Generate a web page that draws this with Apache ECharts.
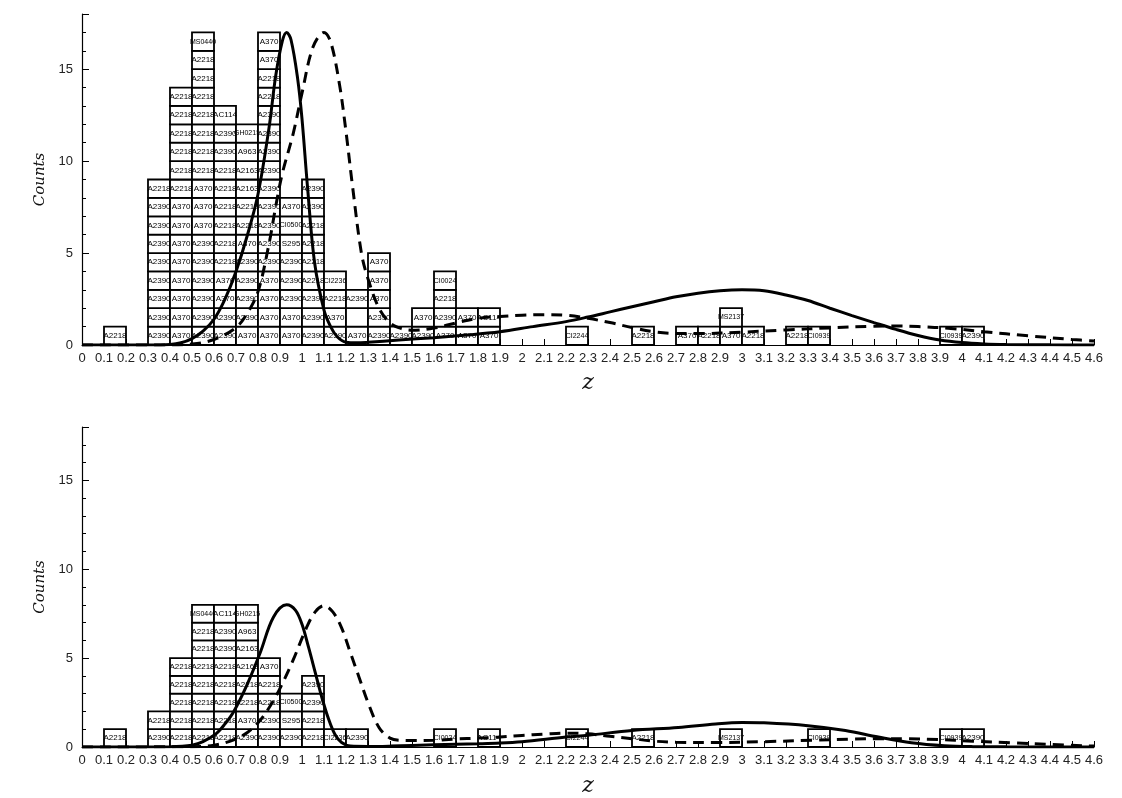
<!DOCTYPE html>
<html>
<head>
<meta charset="utf-8">
<script src="https://cdn.jsdelivr.net/npm/echarts@6/dist/echarts.min.js"></script>
<style>
html,body{margin:0;padding:0;background:#fff;}
#chart{width:1122px;height:798px;}
</style>
</head>
<body>
<div id="chart"></div>
<script>
// ---- Data: top panel (bin starts and stacked box labels, bottom -> top) ----
const topBins = [0.1, 0.3, 0.4, 0.5, 0.6, 0.7, 0.8, 0.9, 1.0, 1.1, 1.2, 1.3, 1.4, 1.5, 1.6, 1.7, 1.8, 2.2, 2.5, 2.7, 2.8, 2.9, 3.0, 3.2, 3.3, 3.9, 4.0];
const topStacks = [
  ["A2218"],
  ["A2390","A2390","A2390","A2390","A2390","A2390","A2390","A2390","A2218"],
  ["A370","A370","A370","A370","A370","A370","A370","A370","A2218","A2218","A2218","A2218","A2218","A2218"],
  ["A2390","A2390","A2390","A2390","A2390","A2390","A370","A370","A370","A2218","A2218","A2218","A2218","A2218","A2218","A2218","MS0440"],
  ["A2390","A2390","A370","A370","A2218","A2218","A2218","A2218","A2218","A2218","A2390","A2390","AC114"],
  ["A370","A2390","A2390","A2390","A2390","A370","A2218","A2218","A2163","A2163","A963","GH0215"],
  ["A370","A370","A370","A370","A2390","A2390","A2390","A2390","A2390","A2390","A2390","A2390","A2390","A2218","A2218","A370","A370"],
  ["A370","A370","A2390","A2390","A2390","S295","CI0500","A370"],
  ["A2390","A2390","A2390","A2218","A2218","A2218","A2218","A2390","A2390"],
  ["A2390","A370","A2218","CI2236"],
  ["A370","","A2390"],
  ["A2390","A2390","A370","A370","A370"],
  ["A2390"],
  ["A2390","A370"],
  ["A370","A2390","A2218","CI0024"],
  ["A370","A370"],
  ["A370","AC114"],
  ["CI2244"],
  ["A2218"],
  ["A370"],
  ["A2218"],
  ["A370","MS2137"],
  ["A2218"],
  ["A2218"],
  ["CI0939"],
  ["CI0939"],
  ["A2390"]
];
// ---- Data: bottom panel ----
const botBins = [0.1, 0.3, 0.4, 0.5, 0.6, 0.7, 0.8, 0.9, 1.0, 1.1, 1.2, 1.6, 1.8, 2.2, 2.5, 2.9, 3.3, 3.9, 4.0];
const botStacks = [
  ["A2218"],
  ["A2390","A2218"],
  ["A2218","A2218","A2218","A2218","A2218"],
  ["A2218","A2218","A2218","A2218","A2218","A2218","A2218","MS0440"],
  ["A2218","A2218","A2218","A2218","A2218","A2390","A2390","AC114"],
  ["A2390","A370","A2218","A2218","A2163","A2163","A963","GH0215"],
  ["A2390","A2390","A2218","A2218","A370"],
  ["A2390","S295","CI0500"],
  ["A2218","A2218","A2390","A2390"],
  ["CI2236"],
  ["A2390"],
  ["CI0024"],
  ["AC114"],
  ["CI2244"],
  ["A2218"],
  ["MS2137"],
  ["CI0939"],
  ["CI0939"],
  ["A2390"]
];
// ---- Curves: [z, counts] ----
const topSolid = [[0,0],[0.3,0],[0.4,0.03],[0.45,0.12],[0.5,0.35],[0.55,0.75],[0.6,1.4],[0.65,2.5],[0.7,4.0],[0.75,5.9],[0.8,8.2],[0.85,11.8],[0.88,14.6],[0.91,16.5],[0.93,17.0],[0.95,16.6],[0.98,14.5],[1.0,12.3],[1.025,8.6],[1.057,4.5],[1.1,1.9],[1.13,1.0],[1.16,0.45],[1.2,0.15],[1.25,0.12],[1.3,0.15],[1.44,0.27],[1.6,0.4],[1.75,0.54],[1.9,0.72],[2.05,1.0],[2.2,1.27],[2.3,1.52],[2.4,1.8],[2.5,2.08],[2.6,2.35],[2.7,2.62],[2.8,2.82],[2.9,2.95],[3.0,3.0],[3.1,2.95],[3.2,2.72],[3.3,2.42],[3.4,2.0],[3.5,1.6],[3.6,1.22],[3.7,0.85],[3.8,0.52],[3.9,0.27],[4.0,0.13],[4.1,0.06],[4.2,0.03],[4.4,0.01],[4.6,0]];
const topDashed = [[0,0],[0.4,0],[0.5,0.05],[0.6,0.3],[0.7,0.95],[0.75,1.7],[0.8,2.9],[0.85,5.5],[0.88,7.5],[0.91,9.3],[0.96,11.5],[1.0,13.7],[1.05,16.2],[1.1,17.0],[1.13,16.5],[1.17,14.2],[1.2,11.6],[1.23,8.6],[1.27,5.0],[1.3,3.6],[1.35,2.0],[1.4,1.2],[1.45,0.9],[1.5,0.8],[1.6,0.92],[1.7,1.2],[1.8,1.45],[1.9,1.55],[2.0,1.62],[2.1,1.65],[2.2,1.62],[2.3,1.45],[2.4,1.22],[2.5,0.95],[2.6,0.72],[2.7,0.63],[2.8,0.62],[3.0,0.7],[3.2,0.82],[3.4,0.93],[3.6,1.02],[3.7,1.03],[3.8,1.0],[3.95,0.9],[4.1,0.72],[4.3,0.5],[4.5,0.3],[4.6,0.22]];
const botSolid = [[0,0],[0.4,0.02],[0.5,0.1],[0.55,0.3],[0.61,0.75],[0.65,1.3],[0.69,2.0],[0.75,3.5],[0.81,5.3],[0.87,7.3],[0.93,8.0],[0.97,7.7],[1.0,6.9],[1.03,5.6],[1.06,4.2],[1.09,2.8],[1.12,1.6],[1.15,0.7],[1.18,0.25],[1.22,0.05],[1.3,0.03],[1.4,0.05],[1.6,0.12],[1.8,0.18],[1.9,0.22],[2.0,0.3],[2.2,0.56],[2.3,0.66],[2.5,0.93],[2.71,1.1],[2.88,1.3],[3.0,1.38],[3.1,1.36],[3.3,1.2],[3.47,0.93],[3.62,0.56],[3.77,0.24],[3.92,0.07],[4.05,0.02],[4.2,0.01],[4.6,0]];
const botDashed = [[0,0],[0.5,0.02],[0.6,0.1],[0.69,0.4],[0.75,0.8],[0.81,1.5],[0.86,2.4],[0.9,3.3],[0.96,4.9],[1.02,6.7],[1.06,7.6],[1.1,7.95],[1.14,7.6],[1.18,6.7],[1.22,5.3],[1.26,3.9],[1.3,2.5],[1.35,1.1],[1.4,0.5],[1.45,0.38],[1.5,0.37],[1.6,0.38],[1.7,0.45],[1.8,0.5],[1.9,0.56],[2.0,0.65],[2.1,0.72],[2.2,0.78],[2.3,0.74],[2.4,0.6],[2.5,0.47],[2.6,0.33],[2.7,0.27],[2.88,0.25],[3.1,0.3],[3.32,0.38],[3.5,0.44],[3.62,0.47],[3.75,0.46],[3.89,0.42],[4.05,0.33],[4.22,0.24],[4.4,0.14],[4.6,0.05]];
const binWidth = 0.1;
const yTickLabels = [0, 5, 10, 15];

// ---- Build ----
function buildBoxes(bins, stacks) {
  const out = [];
  bins.forEach((b, i) => stacks[i].forEach((lab, r) => out.push({ value: [b, r], label: lab })));
  return out;
}
const topBoxes = buildBoxes(topBins, topStacks);
const botBoxes = buildBoxes(botBins, botStacks);

function boxSeries(boxes, idx) {
  return {
    type: 'custom', xAxisIndex: idx, yAxisIndex: idx, z: 2,
    data: boxes.map(b => b.value),
    encode: { x: 0, y: 1 },
    renderItem: function (params, api) {
      const x0 = api.value(0), r = api.value(1);
      const p0 = api.coord([x0, r]);
      const p1 = api.coord([x0 + binWidth, r + 1]);
      const lab = boxes[params.dataIndex].label;
      return {
        type: 'group',
        children: [
          { type: 'rect', shape: { x: p0[0], y: p1[1], width: p1[0] - p0[0], height: p0[1] - p1[1] },
            style: { fill: '#fff', stroke: '#000', lineWidth: 1.8 } },
          { type: 'text', style: { text: lab, x: (p0[0] + p1[0]) / 2, y: (p0[1] + p1[1]) / 2,
            align: 'center', verticalAlign: 'middle', fontSize: lab.length > 5 ? 7 : 8,
            fontFamily: 'Liberation Sans, Arial', fill: '#000' } }
        ]
      };
    }
  };
}
function lineSeries(data, idx, dashed) {
  return {
    type: 'line', xAxisIndex: idx, yAxisIndex: idx, z: 5,
    data: data, showSymbol: false, smooth: 0.35, silent: true,
    lineStyle: { color: '#000', width: 3, type: dashed ? [11, 7] : 'solid' }
  };
}
function xAxis(idx, gap) {
  return {
    type: 'value', gridIndex: idx, min: 0, max: 4.6, interval: 0.1,
    name: 'z', nameLocation: 'middle', nameGap: gap,
    nameTextStyle: { fontFamily: 'DejaVu Serif', fontStyle: 'italic', fontSize: 22, color: '#111' },
    axisLine: { lineStyle: { color: '#000', width: 1.2 } },
    axisTick: { inside: true, length: 6, lineStyle: { color: '#000' } },
    splitLine: { show: false },
    axisLabel: { color: '#222', fontSize: 13, fontFamily: 'Liberation Sans, Arial', margin: 7,
      formatter: v => String(Math.round(v * 10) / 10) }
  };
}
function yAxis(idx) {
  return {
    type: 'value', gridIndex: idx, min: 0, max: 18, interval: 5,
    name: 'Counts', nameLocation: 'middle', nameGap: 27, nameRotate: 90,
    nameTextStyle: { fontFamily: 'DejaVu Serif', fontStyle: 'italic', fontSize: 15, color: '#111' },
    axisLine: { show: true, lineStyle: { color: '#000', width: 1.2 } },
    axisTick: { inside: true, length: 7, lineStyle: { color: '#000' } },
    minorTick: { show: true, splitNumber: 5, length: 4, lineStyle: { color: '#000' } },
    splitLine: { show: false },
    axisLabel: { color: '#222', fontSize: 13, fontFamily: 'Liberation Sans, Arial', margin: 9, showMaxLabel: false,
      formatter: v => (yTickLabels.indexOf(v) >= 0 ? String(v) : '') }
  };
}

const chart = echarts.init(document.getElementById('chart'), null, { renderer: 'canvas' });
chart.setOption({
  animation: false,
  backgroundColor: '#fff',
  grid: [
    { left: 82, right: 28, top: 14, height: 331 },
    { left: 82, right: 28, top: 427, height: 330 }
  ],
  xAxis: [xAxis(0, 27), xAxis(1, 28)],
  yAxis: [yAxis(0), yAxis(1)],
  series: [
    boxSeries(topBoxes, 0),
    lineSeries(topSolid, 0, false),
    lineSeries(topDashed, 0, true),
    boxSeries(botBoxes, 1),
    lineSeries(botSolid, 1, false),
    lineSeries(botDashed, 1, true)
  ]
});
</script>
</body>
</html>
